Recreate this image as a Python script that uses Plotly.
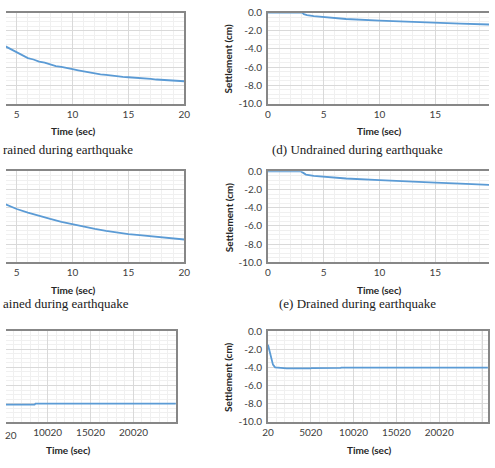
import plotly.graph_objects as go

# ---------------- data ----------------
# (a) Undrained during earthquake (left column, top) - time (sec), settlement (cm)
A_T = [4.0, 4.5, 5.0, 5.5, 6.0, 6.5, 7.0, 7.5, 8.0, 8.5, 9.0, 9.5, 10.0, 10.5, 11.0,
       11.5, 12.0, 12.5, 13.0, 13.5, 14.0, 14.5, 15.0, 15.5, 16.0, 16.5, 17.0, 17.5,
       18.0, 18.5, 19.0, 19.5, 20.0]
A_S = [-3.72, -4.02, -4.38, -4.62, -5.00, -5.16, -5.40, -5.50, -5.70, -5.88, -5.96,
       -6.13, -6.23, -6.35, -6.47, -6.62, -6.69, -6.80, -6.85, -6.94, -6.98, -7.06,
       -7.11, -7.14, -7.20, -7.27, -7.29, -7.36, -7.40, -7.43, -7.48, -7.53, -7.55]

# (b) Drained during earthquake (left column, middle)
B_T = [4.0, 5.0, 6.0, 7.0, 8.0, 9.0, 10.0, 11.0, 12.0, 13.0, 14.0, 15.0, 16.0, 17.0,
       18.0, 19.0, 20.0]
B_S = [-3.62, -4.15, -4.55, -4.92, -5.24, -5.55, -5.84, -6.08, -6.34, -6.55, -6.74,
       -6.90, -7.02, -7.13, -7.25, -7.37, -7.50]

# (d) Undrained during earthquake (right column, top)
D_T = [0.0, 3.07, 3.22, 3.5, 4.1, 5.0, 7.0, 10.0, 12.6, 15.06, 17.25, 19.9, 20.0]
D_S = [0.0, 0.0, -0.18, -0.28, -0.39, -0.50, -0.71, -0.89, -1.03, -1.10, -1.21, -1.32, -1.33]

# (e) Drained during earthquake (right column, middle)
E_T = [0.0, 2.93, 3.2, 3.4, 4.1, 5.0, 7.0, 10.0, 12.6, 15.0, 17.25, 20.0]
E_S = [0.0, 0.0, -0.20, -0.36, -0.50, -0.61, -0.79, -0.96, -1.14, -1.25, -1.36, -1.50]

# post-earthquake (bottom row)
C_T = [5020, 8500, 8600, 25020]
C_S = [-8.10, -8.10, -8.00, -8.00]
F_T = [20, 300, 600, 850, 1500, 2200, 5000, 5100, 8500, 8600, 25700]
F_S = [-1.50, -2.75, -3.70, -4.00, -4.05, -4.12, -4.12, -4.08, -4.05, -4.02, -4.02]

Y_TICKS = [0, -2, -4, -6, -8, -10]
Y_LABELS = ["0.0", "-2.0", "-4.0", "-6.0", "-8.0", "-10.0"]
# captions as visible in the (cropped) reference
CAPTIONS = ["rained during earthquake", "ained during earthquake",
            "(d) Undrained during earthquake", "(e) Drained during earthquake"]
X_TITLE = "Time (sec)"
Y_TITLE = "Settlement (cm)"
CROPPED_TICK = "20"   # visible tail of the "5020" tick label at the left edge

# ---------------- layout helpers ----------------
W, H = 495, 468
def px_x(p):
    return p / W
def px_y(p):
    return 1 - p / H

LINE = "#5b9bd5"
FRAME = "#878787"
GRID = "#d9d9d9"
MINOR = "#f0f0f0"
TICKFONT = dict(family="Lato", size=10, color="#404040")
TITLEFONT = dict(family="Lato", size=10, color="#262626", weight="bold")
CAPFONT = dict(family="Liberation Serif", size=13, color="#1a1a1a")

rows = [(5.7, 99.3), (169.0, 262.5), (333.3, 426.7)]

panels = [
    # (x, y, row, side, xdomain, xrange, dtick, tick0, minor)
    (A_T, A_S, 0, "left", (0, 182.7), (4.04, 20), 5, 0, 1),
    (D_T, D_S, 0, "right", (268.5, 495), (0, 19.82), 5, 0, 1),
    (B_T, B_S, 1, "left", (0, 182.7), (4.04, 20), 5, 0, 1),
    (E_T, E_S, 1, "right", (268.5, 495), (0, 19.82), 5, 0, 1),
    (C_T, C_S, 2, "left", (0, 174), (5168, 24940), 5000, 20, 1000),
    (F_T, F_S, 2, "right", (268.5, 494), (20, 25720), 5000, 20, 1000),
]

fig = go.Figure()
layout = dict(width=W, height=H, margin=dict(l=0, r=0, t=0, b=0),
              paper_bgcolor="white", plot_bgcolor="white", showlegend=False)
annotations = []

for i, (xs, ys, row, side, xd, xr, dt, t0, mn) in enumerate(panels):
    n = i + 1
    xa = "xaxis" if n == 1 else f"xaxis{n}"
    ya = "yaxis" if n == 1 else f"yaxis{n}"
    xref = "x" if n == 1 else f"x{n}"
    yref = "y" if n == 1 else f"y{n}"
    fig.add_trace(go.Scatter(x=xs, y=ys, mode="lines", xaxis=xref, yaxis=yref,
                             line=dict(color=LINE, width=1.8), hoverinfo="skip"))
    top, bot = rows[row]
    layout[xa] = dict(domain=[px_x(xd[0]), px_x(xd[1])], anchor=yref, range=list(xr),
                      tick0=t0, dtick=dt, tickformat="d",
                      showgrid=True, gridcolor=GRID, gridwidth=1,
                      minor=dict(dtick=mn, showgrid=True, gridcolor=MINOR, gridwidth=1),
                      showline=True, linecolor=FRAME, linewidth=2, mirror=True,
                      ticks="", tickfont=TICKFONT, zeroline=False, fixedrange=True)
    yd = dict(domain=[px_y(bot), px_y(top)], anchor=xref, range=[-10, 0],
              tickvals=Y_TICKS, ticktext=Y_LABELS, showgrid=True, gridcolor=GRID,
              gridwidth=1, minor=dict(dtick=0.5, showgrid=True, gridcolor=MINOR, gridwidth=1),
              showline=True, linecolor=FRAME, linewidth=2, zeroline=False,
              tickfont=TICKFONT, fixedrange=True)
    if side == "left":
        yd.update(side="right", showticklabels=False, mirror=False)
    else:
        yd.update(side="left", mirror=(n == 6), ticks="outside", ticklen=2,
                  tickcolor="rgba(0,0,0,0)")
        annotations.append(dict(text=Y_TITLE, textangle=-90, xref="paper", yref="paper",
                                x=px_x(228), y=px_y((top + bot) / 2), showarrow=False,
                                font=TITLEFONT, xanchor="center", yanchor="middle"))
    layout[ya] = yd
    # x-axis title
    xc = (xd[1] - 114) if side == "left" else (xd[0] + 114)
    if row == 2:
        xc = 64 if side == "left" else 373
    annotations.append(dict(text=X_TITLE, xref="paper", yref="paper", x=px_x(xc),
                            y=px_y(bot + 28.5), showarrow=False, font=TITLEFONT,
                            xanchor="center", yanchor="middle"))

# cropped tick label tail at the left edge of the bottom-left panel
annotations.append(dict(text=CROPPED_TICK, xref="paper", yref="paper", x=px_x(-3),
                        y=px_y(440), showarrow=False, font=TICKFONT,
                        xanchor="left", yanchor="middle"))

# captions
cap_pos = [(-5.5, 146.5, "left"), (-5.5, 304.5, "left"), (360, 146.5, "center"),
           (360, 304.5, "center")]
for txt, (cx, cy, anc) in zip(CAPTIONS, cap_pos):
    annotations.append(dict(text=txt, xref="paper", yref="paper", x=px_x(cx), y=px_y(cy),
                            showarrow=False, font=CAPFONT, xanchor=anc, yanchor="middle"))

layout["annotations"] = annotations
fig.update_layout(**layout)
fig.write_html("out.html", config={"displayModeBar": False})
